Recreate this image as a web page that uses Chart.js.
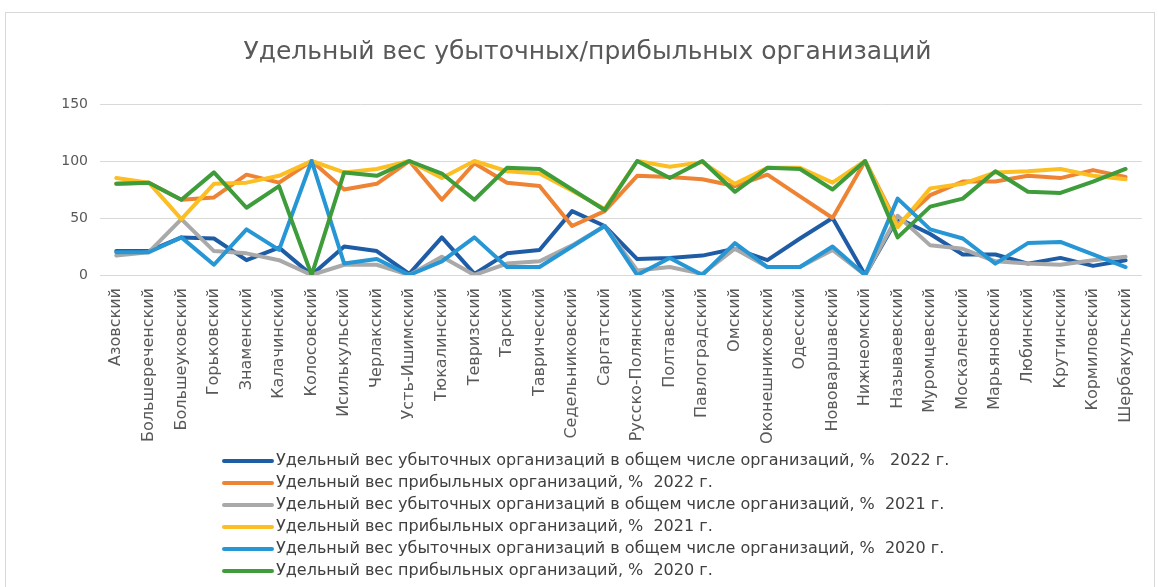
<!DOCTYPE html>
<html>
<head>
<meta charset="utf-8">
<script src="https://cdn.jsdelivr.net/npm/chart.js@4.4.1/dist/chart.umd.min.js"></script>
<style>
  html, body { margin: 0; padding: 0; background: #fff; }
  #wrap { position: relative; width: 1158px; height: 587px; overflow: hidden; }
  #frame { position: absolute; left: 5px; top: 12px; width: 1150px; height: 600px; border: 1px solid #d9d9d9; box-sizing: border-box; }
  #box { position: absolute; left: 0; top: 0; width: 1158px; height: 587px; }
</style>
</head>
<body>
<div id="wrap">
  <div id="frame"></div>
  <div id="box"><canvas id="c" width="1158" height="587"></canvas></div>
</div>
<script>
const categories = ["Азовский","Большереченский","Большеуковский","Горьковский","Знаменский","Калачинский","Колосовский","Исилькульский","Черлакский","Усть-Ишимский","Тюкалинский","Тевризский","Тарский","Таврический","Седельниковский","Саргатский","Русско-Полянский","Полтавский","Павлоградский","Омский","Оконешниковский","Одесский","Нововаршавский","Нижнеомский","Называевский","Муромцевский","Москаленский","Марьяновский","Любинский","Крутинский","Кормиловский","Шербакульский"];

const loss2022   = [21, 21, 33, 32, 13, 24, 0, 25, 21, 1, 33, 1, 19, 22, 56, 43, 14, 15, 17, 23, 13, 32, 50, 0, 50, 36, 18, 18, 10, 15, 8, 13];
const profit2022 = [80, 81, 66, 68, 88, 81, 100, 75, 80, 100, 66, 98, 81, 78, 43, 56, 87, 86, 84, 78, 88, 69, 50, 100, 44, 70, 82, 82, 87, 85, 92, 86];
const loss2021   = [17, 20, 49, 21, 19, 13, 0, 9, 9, 0, 16, 0, 10, 12, 26, 43, 4, 7, 1, 23, 7, 7, 22, 0, 52, 26, 23, 12, 10, 9, 13, 16];
const profit2021 = [85, 81, 49, 80, 81, 87, 100, 90, 93, 100, 85, 100, 91, 89, 74, 58, 100, 95, 99, 80, 94, 94, 81, 100, 42, 76, 80, 90, 91, 93, 87, 84];
const loss2020   = [20, 20, 33, 9, 40, 22, 100, 10, 14, 0, 12, 33, 7, 7, 25, 43, 0, 15, 0, 28, 7, 7, 25, 0, 67, 40, 32, 10, 28, 29, 18, 7];
const profit2020 = [80, 81, 66, 90, 59, 78, 0, 90, 87, 100, 89, 66, 94, 93, 75, 57, 100, 85, 100, 73, 94, 93, 75, 100, 33, 60, 67, 91, 73, 72, 82, 93];

const yTicks = [0, 50, 100, 150];

const seriesLabels = [
  "Удельный вес убыточных организаций в общем числе организаций, %   2022 г.",
  "Удельный вес прибыльных организаций, %  2022 г.",
  "Удельный вес убыточных организаций в общем числе организаций, %  2021 г.",
  "Удельный вес прибыльных организаций, %  2021 г.",
  "Удельный вес убыточных организаций в общем числе организаций, %  2020 г.",
  "Удельный вес прибыльных организаций, %  2020 г."
];
const seriesColors = ["#1f5ca6", "#ee8433", "#a9a9a9", "#fbbf24", "#2796d4", "#3e9c3a"];
const seriesData = [loss2022, profit2022, loss2021, profit2021, loss2020, profit2020];

const FONT = "'DejaVu Sans', 'Open Sans', sans-serif";

const customLegend = {
  id: 'customLegend',
  afterDraw(chart) {
    const ctx = chart.ctx;
    ctx.save();
    ctx.font = "16px " + FONT;
    ctx.textBaseline = 'middle';
    chart.data.datasets.forEach((ds, i) => {
      const y = 461 + i * 22;
      ctx.strokeStyle = ds.borderColor;
      ctx.lineWidth = 4;
      ctx.lineCap = 'round';
      ctx.beginPath();
      ctx.moveTo(224, y);
      ctx.lineTo(272, y);
      ctx.stroke();
      ctx.fillStyle = '#404040';
      ctx.fillText(ds.label, 276, y);
    });
    ctx.restore();
  }
};

new Chart(document.getElementById('c'), {
  type: 'line',
  data: {
    labels: categories,
    datasets: seriesData.map((d, i) => ({
      label: seriesLabels[i],
      data: d,
      borderColor: seriesColors[i],
      backgroundColor: seriesColors[i],
      borderWidth: 4,
      pointRadius: 0,
      pointHoverRadius: 0,
      tension: 0,
      borderJoinStyle: 'round',
      borderCapStyle: 'round',
      fill: false,
      order: 5 - i
    }))
  },
  options: {
    responsive: false,
    animation: false,
    devicePixelRatio: 1,
    layout: { padding: { top: 0, left: 32, right: 15, bottom: 140 } },
    plugins: {
      legend: { display: false },
      tooltip: { enabled: false },
      title: {
        display: true,
        text: "Удельный вес убыточных/прибыльных организаций",
        color: '#595959',
        font: { family: FONT, size: 25, weight: 'normal', lineHeight: 1.2 },
        padding: { top: 37, bottom: 37 }
      }
    },
    scales: {
      x: {
        offset: true,
        grid: { display: false, drawTicks: false },
        border: { display: false },
        ticks: {
          autoSkip: false,
          maxRotation: 90,
          minRotation: 90,
          padding: 13,
          color: '#595959',
          font: { family: FONT, size: 16 }
        },
        afterFit(scale) { scale.height = 172; }
      },
      y: {
        min: 0,
        max: 150,
        afterBuildTicks(scale) { scale.ticks = yTicks.map(v => ({ value: v })); },
        grid: { color: '#d9d9d9', lineWidth: 1, drawTicks: false },
        border: { display: false },
        ticks: {
          padding: 12,
          color: '#595959',
          font: { family: FONT, size: 14 }
        },
        afterFit(scale) { scale.width = 68; }
      }
    }
  },
  plugins: [customLegend]
});
</script>
</body>
</html>
